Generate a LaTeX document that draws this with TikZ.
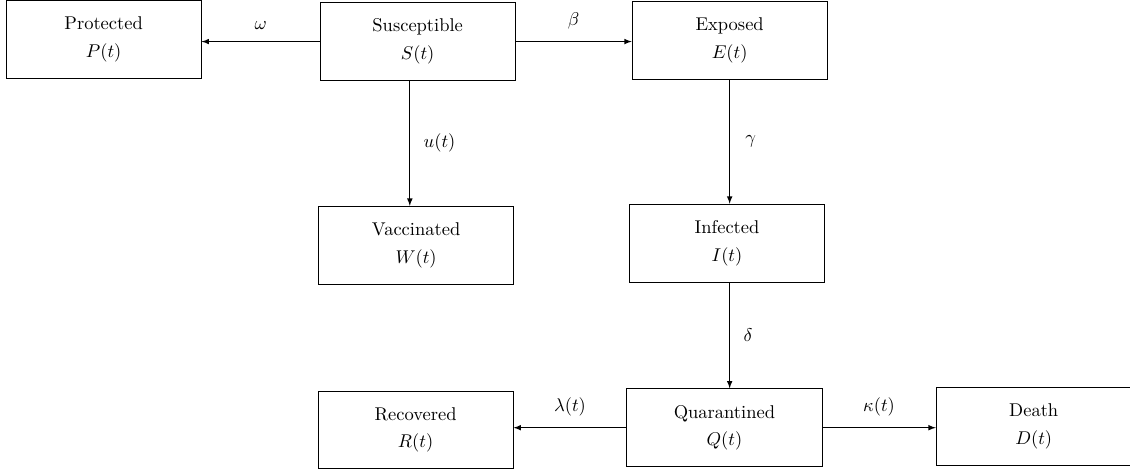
\documentclass[tikz,border=0pt]{standalone}
\usepackage{amsmath,amssymb}
\usepackage{tikz}
\usetikzlibrary{arrows}

\begin{document}
\begin{tikzpicture}[>=latex,
  box/.style={draw,align=center,minimum width=3.71cm,minimum height=1.48cm},
  rate/.style={midway}]
\useasboundingbox (0,0) rectangle (21.48,-8.94);
\node[box] (P) at (1.97,-0.75) {Protected\\[3pt] $P(t)$};
\node[box] (S) at (7.94,-0.79) {Susceptible\\[3pt] $S(t)$};
\node[box] (E) at (13.87,-0.77) {Exposed\\[3pt] $E(t)$};
\node[box] (W) at (7.91,-4.66) {Vaccinated\\[3pt] $W(t)$};
\node[box] (I) at (13.82,-4.62) {Infected\\[3pt] $I(t)$};
\node[box] (R) at (7.90,-8.17) {Recovered\\[3pt] $R(t)$};
\node[box] (Q) at (13.77,-8.13) {Quarantined\\[3pt] $Q(t)$};
\node[box] (D) at (19.65,-8.11) {Death\\[3pt] $D(t)$};

\draw[->] (S.west) -- (S.west -| P.east) node[rate,above=3pt] {$\omega$};
\draw[->] (S.east) -- (S.east -| E.west) node[rate,above=3pt] {$\beta$};
\draw[->] ([xshift=-0.15cm]S.south) -- ([xshift=-0.15cm]S.south |- W.north)
  node[rate,right=4pt] {$u(t)$};
\draw[->] (E.south) -- (E.south |- I.north) node[rate,right=5pt] {$\gamma$};
\draw[->] ([xshift=0.05cm]I.south) -- ([xshift=0.05cm]I.south |- Q.north)
  node[rate,right=4pt] {$\delta$};
\draw[->] (Q.west) -- (Q.west -| R.east) node[rate,above=3pt] {$\lambda(t)$};
\draw[->] (Q.east) -- (Q.east -| D.west) node[rate,above=3pt] {$\kappa(t)$};
\end{tikzpicture}
\end{document}
